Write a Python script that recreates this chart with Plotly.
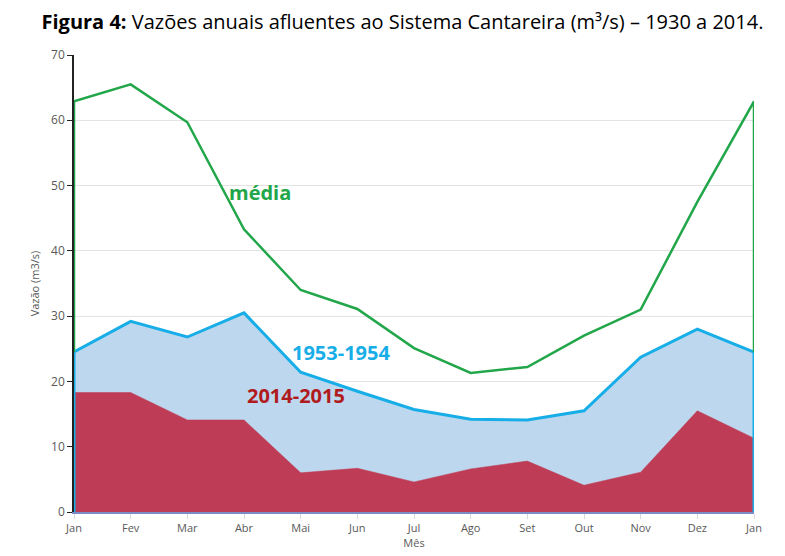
import plotly.graph_objects as go

meses = ["Jan", "Fev", "Mar", "Abr", "Mai", "Jun", "Jul", "Ago", "Set", "Out", "Nov", "Dez", "Jan"]
media = [62.9, 65.5, 59.7, 43.3, 34.0, 31.1, 25.1, 21.3, 22.2, 27.0, 31.0, 47.5, 62.9]
serie_1953_1954 = [24.5, 29.2, 26.8, 30.5, 21.4, 18.5, 15.7, 14.2, 14.1, 15.5, 23.7, 28.0, 24.5]
serie_2014_2015 = [18.3, 18.3, 14.1, 14.1, 6.0, 6.7, 4.6, 6.6, 7.8, 4.1, 6.1, 15.5, 11.3]

x = list(range(len(meses)))
x_edges = [x[0]] + x + [x[-1]]

GREEN = "#22A64A"
BLUE_LINE = "#17AEE8"
BLUE_FILL = "#BDD7EE"
RED_FILL = "#BE3C55"

fig = go.Figure()
fig.add_trace(go.Scatter(x=x, y=serie_1953_1954, mode="lines", fill="tozeroy",
                         fillcolor=BLUE_FILL, line=dict(width=0, color=BLUE_FILL),
                         hoverinfo="skip", showlegend=False))
fig.add_trace(go.Scatter(x=x, y=serie_2014_2015, mode="lines", fill="tozeroy",
                         fillcolor=RED_FILL, line=dict(width=0.5, color=RED_FILL),
                         showlegend=False))
fig.add_trace(go.Scatter(x=x_edges, y=[0] + serie_1953_1954 + [0], mode="lines",
                         line=dict(width=3, color=BLUE_LINE), showlegend=False))
fig.add_trace(go.Scatter(x=x_edges, y=[serie_1953_1954[0]] + media + [serie_1953_1954[-1]],
                         mode="lines", line=dict(width=2.5, color=GREEN), showlegend=False))

fig.add_annotation(x=3.28, y=48.9, text="<b>média</b>", showarrow=False,
                   font=dict(family="Open Sans", size=20, color=GREEN))
fig.add_annotation(x=4.71, y=24.5, text="<b>1953-1954</b>", showarrow=False,
                   font=dict(family="Open Sans", size=20, color=BLUE_LINE))
fig.add_annotation(x=3.92, y=17.8, text="<b>2014-2015</b>", showarrow=False,
                   font=dict(family="Open Sans", size=20, color="#B01B1E"))

fig.update_layout(
    width=785, height=556,
    paper_bgcolor="white", plot_bgcolor="white",
    margin=dict(l=66, r=39, t=47, b=52, autoexpand=False),
    title=dict(text="<b>Figura 4:</b> Vazões anuais afluentes ao Sistema Cantareira (m³/s) – 1930 a 2014.",
               x=0.5025, xanchor="center", y=1 - 14 / 556, yanchor="middle",
               font=dict(family="Open Sans", size=20, color="black")),
    font=dict(family="Open Sans", size=12, color="#595959"),
)
fig.update_xaxes(range=[0, 12], tickmode="array", tickvals=x, ticktext=meses,
                 showgrid=False, zeroline=False, showline=True, linecolor="#7B8BC6", linewidth=2,
                 ticks="outside", ticklen=5, tickcolor="#D9D9D9",
                 title=dict(text="Mês", standoff=2, font=dict(size=11, color="#595959")),
                 tickfont=dict(size=11, color="#595959"))
fig.update_yaxes(range=[0, 70], dtick=10, showgrid=True, gridcolor="#E3E3E3", gridwidth=1,
                 zeroline=False, showline=True, linecolor="#222222", linewidth=1.5,
                 ticks="outside", ticklen=5, tickcolor="#222222",
                 title=dict(text="Vazão (m3/s)", standoff=9, font=dict(size=11, color="#595959")),
                 tickfont=dict(size=12, color="#595959"))

fig.write_html("out.html")
